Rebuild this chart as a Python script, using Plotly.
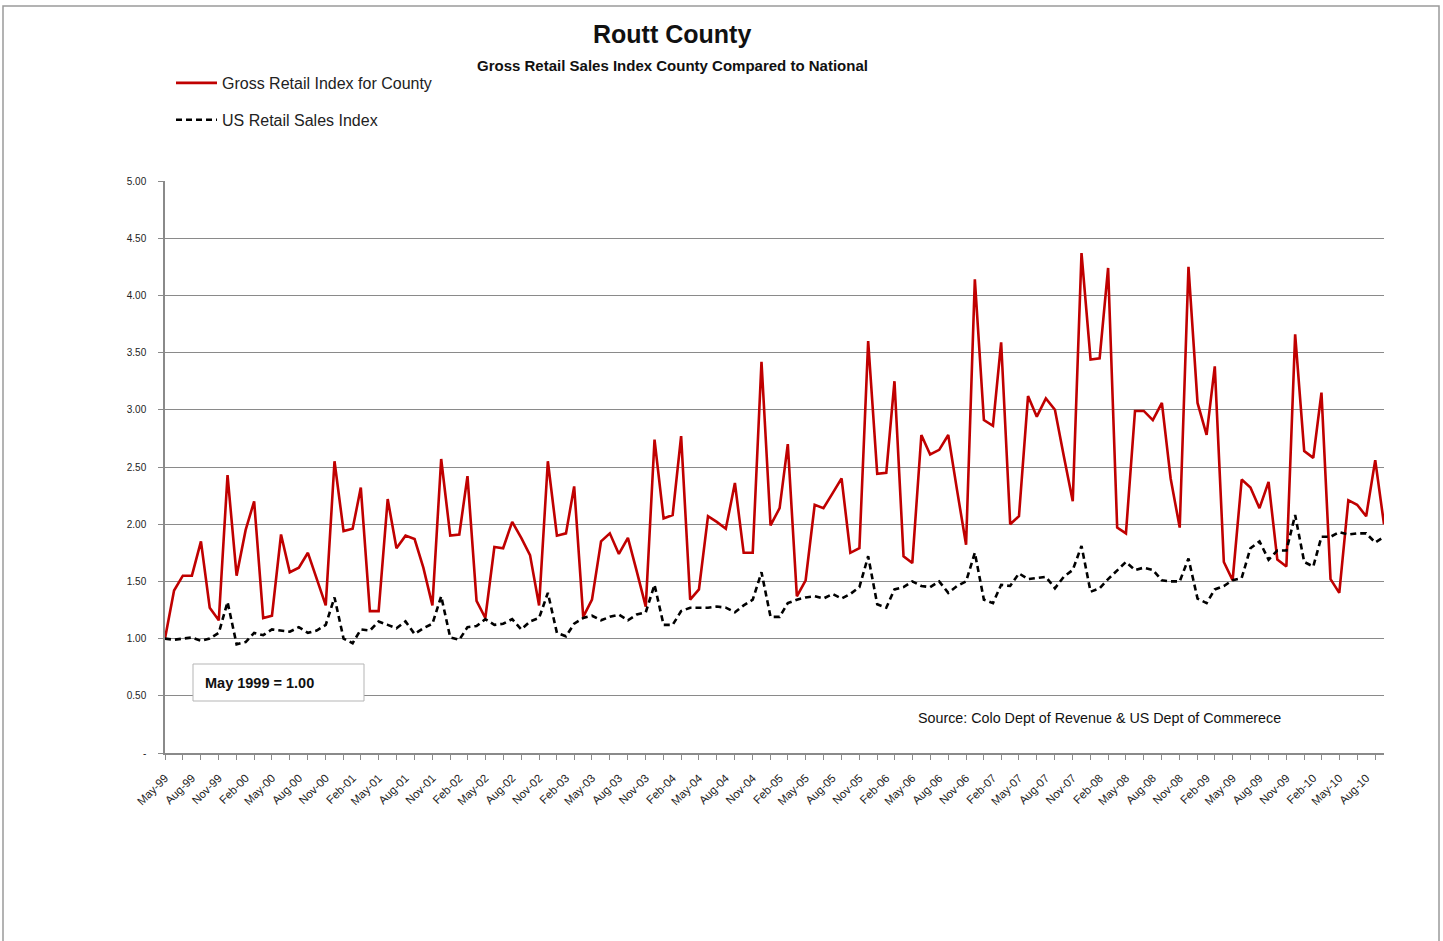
import pandas as pd
import plotly.graph_objects as go

# Monthly observations, May 1999 through October 2010
months = pd.date_range("1999-05-01", "2010-10-01", freq="MS")

county_index = [
    1.00, 1.42, 1.55, 1.55, 1.85, 1.27, 1.16, 2.43, 1.55, 1.95, 2.20, 1.18,
    1.20, 1.91, 1.58, 1.62, 1.75, 1.52, 1.29, 2.55, 1.94, 1.96, 2.32, 1.24,
    1.24, 2.22, 1.79, 1.90, 1.87, 1.62, 1.29, 2.57, 1.90, 1.91, 2.42, 1.33,
    1.18, 1.80, 1.79, 2.02, 1.88, 1.73, 1.29, 2.55, 1.90, 1.92, 2.33, 1.19,
    1.34, 1.85, 1.92, 1.74, 1.88, 1.59, 1.28, 2.74, 2.05, 2.08, 2.77, 1.34,
    1.43, 2.07, 2.02, 1.96, 2.36, 1.75, 1.75, 3.42, 1.99, 2.14, 2.70, 1.37,
    1.51, 2.17, 2.14, 2.27, 2.40, 1.75, 1.79, 3.60, 2.44, 2.45, 3.25, 1.72,
    1.66, 2.78, 2.61, 2.65, 2.78, 2.30, 1.82, 4.14, 2.91, 2.86, 3.59, 2.00,
    2.07, 3.12, 2.94, 3.10, 3.00, 2.60, 2.20, 4.37, 3.44, 3.45, 4.24, 1.97,
    1.92, 2.99, 2.99, 2.91, 3.06, 2.40, 1.97, 4.25, 3.06, 2.78, 3.38, 1.67,
    1.51, 2.39, 2.32, 2.14, 2.37, 1.69, 1.63, 3.66, 2.64, 2.58, 3.15, 1.52,
    1.40, 2.21, 2.17, 2.07, 2.56, 2.00,
]

us_index = [
    1.00, 0.99, 1.00, 1.01, 0.98, 1.00, 1.05, 1.32, 0.95, 0.97, 1.05, 1.03,
    1.08, 1.07, 1.06, 1.10, 1.05, 1.07, 1.12, 1.36, 1.00, 0.96, 1.08, 1.07,
    1.15, 1.12, 1.09, 1.15, 1.04, 1.09, 1.13, 1.37, 1.01, 0.99, 1.10, 1.11,
    1.17, 1.12, 1.13, 1.17, 1.08, 1.15, 1.18, 1.40, 1.05, 1.02, 1.13, 1.18,
    1.20, 1.16, 1.19, 1.21, 1.16, 1.21, 1.23, 1.47, 1.12, 1.12, 1.24, 1.27,
    1.27, 1.27, 1.28, 1.27, 1.23, 1.29, 1.34, 1.58, 1.19, 1.19, 1.31, 1.34,
    1.36, 1.37, 1.35, 1.39, 1.35, 1.39, 1.45, 1.72, 1.30, 1.27, 1.43, 1.45,
    1.50, 1.46, 1.45, 1.50, 1.40, 1.46, 1.50, 1.75, 1.34, 1.31, 1.47, 1.46,
    1.57, 1.52, 1.53, 1.54, 1.44, 1.54, 1.60, 1.81, 1.41, 1.44, 1.52, 1.60,
    1.67, 1.60, 1.62, 1.60, 1.51, 1.50, 1.50, 1.70, 1.35, 1.31, 1.43, 1.46,
    1.51, 1.53, 1.79, 1.85, 1.69, 1.77, 1.77, 2.08, 1.67, 1.63, 1.89, 1.89,
    1.93, 1.91, 1.92, 1.92, 1.84, 1.89,
]

y_ticks = [0, 0.5, 1.0, 1.5, 2.0, 2.5, 3.0, 3.5, 4.0, 4.5, 5.0]
y_tick_text = ["-", "0.50", "1.00", "1.50", "2.00", "2.50", "3.00", "3.50", "4.00", "4.50", "5.00"]

x_tick_dates = months[::3]
x_tick_text = [d.strftime("%b-%y") for d in x_tick_dates]

W, H = 1443, 941
ML, MR, MT, MB = 165, 59, 181, 188
PW, PH = W - ML - MR, H - MT - MB


def px_x(px):
    return (px - ML) / PW


def px_y(py):
    return (H - MB - py) / PH


FONT = "Liberation Sans, Arial, sans-serif"
GRID = "#8a8a8a"

fig = go.Figure()
fig.add_trace(go.Scatter(
    x=months, y=county_index, mode="lines",
    name="Gross Retail Index for County", legendgroup="a",
    line=dict(color="#c00000", width=2.6),
))
fig.add_trace(go.Scatter(
    x=months, y=us_index, mode="lines",
    name="US Retail Sales Index", legendgroup="b",
    line=dict(color="#000000", width=2.6, dash="6px,4px"),
))

fig.update_layout(
    width=W, height=H, autosize=False,
    margin=dict(l=ML, r=MR, t=MT, b=MB),
    paper_bgcolor="white", plot_bgcolor="white",
    font=dict(family=FONT, color="#222"),
    showlegend=True,
    legend=dict(
        x=px_x(171), y=px_y(66), xanchor="left", yanchor="top",
        font=dict(size=16, color="#222"), tracegroupgap=13,
        itemwidth=41, bgcolor="rgba(0,0,0,0)",
    ),
    xaxis=dict(
        type="date",
        range=[months[0], months[-1]],
        tickvals=list(x_tick_dates), ticktext=x_tick_text,
        tickangle=-45, tickfont=dict(size=11.5, color="#222"),
        ticks="", showgrid=False, ticklabelstandoff=12,
        showline=True, linecolor=GRID, linewidth=1.5,
        minor=dict(ticks="outside", ticklen=5, tickcolor=GRID,
                   tick0=months[0], dtick="M2", showgrid=False),
        zeroline=False,
    ),
    yaxis=dict(
        range=[0, 5], tickvals=y_ticks, ticktext=y_tick_text,
        tickfont=dict(size=10, color="#222"),
        ticks="outside", ticklen=5, tickcolor=GRID, ticklabelstandoff=10,
        showgrid=True, gridcolor=GRID, gridwidth=1.2,
        showline=True, linecolor=GRID, linewidth=1.5,
        zeroline=False,
    ),
    shapes=[
        # outer chart frame
        dict(type="rect", xref="paper", yref="paper",
             x0=px_x(3), x1=px_x(1439), y0=px_y(960), y1=px_y(6),
             line=dict(color="#9a9a9a", width=1.5), fillcolor="rgba(0,0,0,0)",
             layer="below"),
        # base-period note box
        dict(type="rect", xref="paper", yref="paper",
             x0=px_x(193), x1=px_x(364), y0=px_y(701), y1=px_y(664),
             line=dict(color="#b5b5b5", width=1), fillcolor="white",
             layer="above"),
    ],
    annotations=[
        dict(text="<b>Routt County</b>", xref="paper", yref="paper",
             x=px_x(672), y=px_y(34), xanchor="center", yanchor="middle",
             showarrow=False, font=dict(size=25, color="#111")),
        dict(text="<b>Gross Retail Sales Index County Compared to National</b>",
             xref="paper", yref="paper", x=px_x(672), y=px_y(65),
             xanchor="center", yanchor="middle", showarrow=False,
             font=dict(size=15, color="#111")),
        dict(text="<b>May 1999 = 1.00</b>", xref="paper", yref="paper",
             x=px_x(203), y=px_y(683), xanchor="left", yanchor="middle",
             showarrow=False, font=dict(size=14.5, color="#111")),
        dict(text="Source: Colo Dept of Revenue &amp; US Dept of Commerece",
             xref="paper", yref="paper", x=px_x(916), y=px_y(718),
             xanchor="left", yanchor="middle", showarrow=False,
             font=dict(size=14.3, color="#111")),
    ],
)

fig.write_html("out.html")
